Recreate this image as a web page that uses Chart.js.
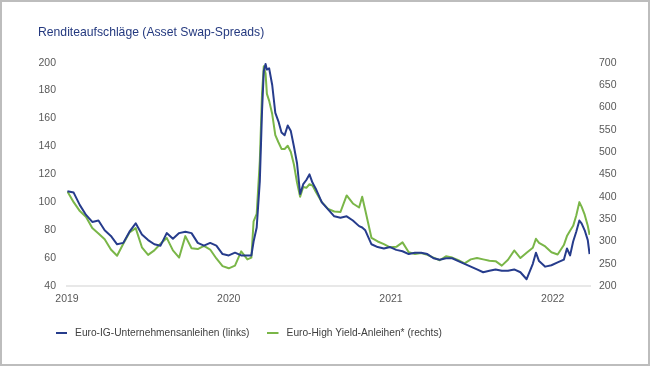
<!DOCTYPE html>
<html lang="de">
<head>
<meta charset="utf-8">
<title>Renditeaufschläge</title>
<script src="https://cdn.jsdelivr.net/npm/chart.js@4.4.1/dist/chart.umd.min.js"></script>
<style>
  html, body { margin: 0; padding: 0; background: #fff; }
  .frame { width: 650px; height: 366px; box-sizing: border-box; border: 2px solid #bdbdbd; background: #fff; }
  canvas { display: block; }
</style>
</head>
<body>
<div class="frame"><canvas id="spreadChart" width="646" height="362"></canvas></div>
<script>
// Beobachtungstage (ungefähr zweiwöchentlich, um die Spitzen dichter)
const dates = [
  '2019-01-02', '2019-01-16', '2019-01-30', '2019-02-13', '2019-02-27', '2019-03-13', '2019-03-27',
  '2019-04-10', '2019-04-24', '2019-05-08', '2019-05-22', '2019-06-05', '2019-06-19', '2019-07-03',
  '2019-07-17', '2019-07-31', '2019-08-14', '2019-08-28', '2019-09-11', '2019-09-25', '2019-10-09',
  '2019-10-23', '2019-11-06', '2019-11-20', '2019-12-04', '2019-12-18',
  '2020-01-01', '2020-01-15', '2020-01-29', '2020-02-12', '2020-02-21', '2020-02-26', '2020-03-04',
  '2020-03-11', '2020-03-16', '2020-03-20', '2020-03-24', '2020-03-27', '2020-04-01', '2020-04-08',
  '2020-04-15', '2020-04-22', '2020-04-29', '2020-05-06', '2020-05-13', '2020-05-20', '2020-05-27',
  '2020-06-03', '2020-06-10', '2020-06-17', '2020-06-24', '2020-07-01', '2020-07-08', '2020-07-15',
  '2020-07-29', '2020-08-12', '2020-08-26', '2020-09-09', '2020-09-23', '2020-10-07', '2020-10-21',
  '2020-10-28', '2020-11-04', '2020-11-18', '2020-12-02', '2020-12-16', '2020-12-30',
  '2021-01-13', '2021-01-27', '2021-02-10', '2021-02-24', '2021-03-10', '2021-03-24', '2021-04-07',
  '2021-04-21', '2021-05-05', '2021-05-19', '2021-06-02', '2021-06-16', '2021-06-30', '2021-07-14',
  '2021-07-28', '2021-08-11', '2021-08-25', '2021-09-08', '2021-09-22', '2021-10-06', '2021-10-20',
  '2021-11-03', '2021-11-17', '2021-11-24', '2021-12-01', '2021-12-15', '2021-12-29',
  '2022-01-12', '2022-01-26', '2022-02-02', '2022-02-09', '2022-02-16', '2022-02-23', '2022-03-02',
  '2022-03-07', '2022-03-14', '2022-03-21', '2022-03-25'
];

// Euro-IG-Unternehmensanleihen, Basispunkte (linke Achse)
const igSpread = [
  108, 107, 98, 91, 86, 87, 80,
  76, 70, 71, 79, 85, 77, 73,
  70, 69, 78, 74, 78, 79, 78,
  71, 69, 71, 69, 63,
  62, 64, 62, 62, 62, 72, 82,
  115, 165, 194, 199, 195, 196, 184,
  164, 158, 150, 148, 155, 151, 140,
  128, 106, 113, 116, 120, 114, 110,
  100, 95, 90, 89, 90, 87, 83,
  82, 80, 70, 68, 67, 68,
  66, 65, 63, 64, 64, 63, 60,
  59, 60, 60, 58, 56, 54, 52,
  50, 51, 52, 51, 51, 52, 50,
  45, 56, 64, 58, 54, 55,
  57, 59, 67, 62, 72, 79, 87,
  85, 80, 73, 63
];

// Euro-High Yield-Anleihen, Basispunkte (rechte Achse)
const hySpread = [
  412, 388, 368, 355, 330, 318, 305,
  282, 268, 295, 320, 330, 287, 270,
  280, 295, 308, 280, 264, 312, 285,
  283, 290, 282, 262, 245,
  240, 246, 278, 260, 264, 345, 362,
  480, 630, 692, 676, 630, 615, 585,
  538, 522, 507, 507, 514, 500, 472,
  432, 400, 422, 420, 428, 425, 412,
  388, 373, 367, 366, 403, 385, 376,
  400, 370, 308, 300, 294, 287,
  288, 298, 276, 272, 274, 270, 264,
  258, 267, 264, 258, 251, 260, 263,
  260, 257, 256, 246, 259, 280, 263,
  275, 286, 306, 297, 289, 276,
  271, 292, 312, 324, 335, 358, 388,
  378, 360, 335, 315
];

const yearTicks = [2019, 2020, 2021, 2022];
const leftTicks = { min: 40, max: 200, step: 20 };
const rightTicks = { min: 200, max: 700, step: 50 };

const fontFamily = '"Liberation Sans", Arial, Helvetica, sans-serif';
const tickColor = '#595959';
const igColor = '#263c8c';
const hyColor = '#7ab648';

const toPoints = (values) => values.map((v, i) => ({ x: Date.parse(dates[i]), y: v }));

// Legenden-Strich: 11px Linie, rechts etwas Luft bis zum Text
const makeDash = (color) => {
  const c = document.createElement('canvas');
  c.width = 14;
  c.height = 2;
  const ctx = c.getContext('2d');
  ctx.fillStyle = color;
  ctx.fillRect(0, 0, 11, 2);
  return c;
};

new Chart(document.getElementById('spreadChart'), {
  type: 'line',
  data: {
    datasets: [
      {
        label: 'Euro-IG-Unternehmensanleihen (links)',
        data: toPoints(igSpread),
        yAxisID: 'y',
        borderColor: igColor,
        backgroundColor: igColor,
        borderWidth: 2,
        pointStyle: makeDash(igColor)
      },
      {
        label: 'Euro-High Yield-Anleihen* (rechts)',
        data: toPoints(hySpread),
        yAxisID: 'y1',
        borderColor: hyColor,
        backgroundColor: hyColor,
        borderWidth: 2,
        pointStyle: makeDash(hyColor)
      }
    ]
  },
  options: {
    responsive: false,
    animation: false,
    layout: { padding: { left: 36, right: 0, top: 15, bottom: 16 } },
    elements: {
      point: { radius: 0 },
      line: { tension: 0, borderJoinStyle: 'round' }
    },
    plugins: {
      title: {
        display: true,
        text: 'Renditeaufschläge (Asset Swap-Spreads)',
        align: 'start',
        color: '#24397f',
        font: { family: fontFamily, size: 12.2, weight: 'normal' },
        padding: { top: 8, bottom: 23 }
      },
      legend: {
        position: 'bottom',
        align: 'start',
        labels: {
          usePointStyle: true,
          pointStyleWidth: 14,
          padding: 18,
          color: '#404040',
          font: { family: fontFamily, size: 10.2 }
        }
      },
      tooltip: { enabled: false }
    },
    scales: {
      x: {
        type: 'linear',
        min: Date.UTC(2019, 0, 1),
        max: Date.UTC(2022, 2, 26),
        afterBuildTicks: (scale) => {
          scale.ticks = yearTicks.map(y => ({ value: Date.UTC(y, 0, 1) }));
        },
        afterFit: (scale) => { scale.height -= 3; },
        ticks: {
          autoSkip: false,
          maxRotation: 0,
          padding: 7,
          color: tickColor,
          font: { family: fontFamily, size: 10.5 },
          callback: (value) => String(new Date(value).getUTCFullYear())
        },
        grid: { display: false, drawTicks: false },
        border: { display: true, color: '#e8e8e8', width: 2 }
      },
      y: {
        position: 'left',
        min: leftTicks.min,
        max: leftTicks.max,
        afterFit: (scale) => { scale.width = 29; },
        ticks: {
          stepSize: leftTicks.step,
          padding: 11,
          color: tickColor,
          font: { family: fontFamily, size: 10.5 }
        },
        grid: { display: false, drawTicks: false },
        border: { display: false }
      },
      y1: {
        position: 'right',
        min: rightTicks.min,
        max: rightTicks.max,
        afterFit: (scale) => { scale.width = 58; },
        ticks: {
          stepSize: rightTicks.step,
          padding: 9,
          color: tickColor,
          font: { family: fontFamily, size: 10.5 }
        },
        grid: { display: false, drawTicks: false },
        border: { display: false }
      }
    }
  }
});
</script>
</body>
</html>
